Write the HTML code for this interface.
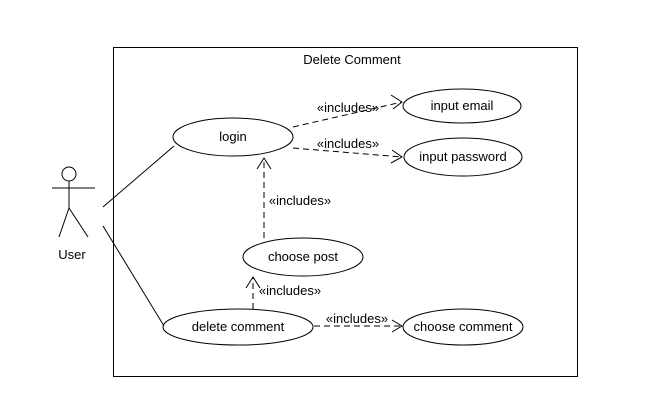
<!DOCTYPE html>
<html><head><style>body{margin:0;background:#fff}svg{display:block}text{font-family:"Liberation Sans",sans-serif;font-size:13px;fill:#000}</style></head><body>
<svg width="649" height="415" viewBox="0 0 649 415">
<rect x="113.5" y="47.5" width="464" height="329" fill="none" stroke="#000"/>
<text x="352" y="64" text-anchor="middle">Delete Comment</text>
<g fill="none" stroke="#000">
<ellipse cx="233" cy="137" rx="60" ry="19"/>
<ellipse cx="462" cy="106" rx="59" ry="17"/>
<ellipse cx="463" cy="157" rx="59" ry="19"/>
<ellipse cx="303" cy="257" rx="60" ry="19"/>
<ellipse cx="238" cy="327" rx="75" ry="18"/>
<ellipse cx="463" cy="327" rx="60" ry="18"/>
<circle cx="69" cy="174" r="7"/>
<line x1="52" y1="188" x2="95" y2="188"/>
<line x1="69" y1="181" x2="69" y2="208"/>
<polyline points="59,237 69,208 88,237"/>
<line x1="103" y1="207" x2="174" y2="146"/>
<line x1="103" y1="226" x2="164" y2="326"/>
<g stroke-dasharray="6,4">
<line x1="293" y1="127" x2="402" y2="102"/>
<line x1="293" y1="148" x2="402" y2="157"/>
<line x1="264" y1="238" x2="264" y2="158"/>
<line x1="253" y1="309" x2="253" y2="277"/>
<line x1="314" y1="326" x2="402" y2="326"/>
</g>
<polyline points="391,95 402,102 393,109"/>
<polyline points="392,150 402,157 391,163"/>
<polyline points="257,169 264,158 271,169"/>
<polyline points="246,288 253,277 260,288"/>
<polyline points="392,320 402,326 392,332"/>
</g>
<text x="348" y="112" text-anchor="middle">«includes»</text>
<text x="348" y="148" text-anchor="middle">«includes»</text>
<text x="300" y="205" text-anchor="middle">«includes»</text>
<text x="290" y="295" text-anchor="middle">«includes»</text>
<text x="357" y="323" text-anchor="middle">«includes»</text>
<text x="233" y="141" text-anchor="middle">login</text>
<text x="462" y="110" text-anchor="middle">input email</text>
<text x="463" y="161" text-anchor="middle">input password</text>
<text x="303" y="261" text-anchor="middle">choose post</text>
<text x="238" y="331" text-anchor="middle">delete comment</text>
<text x="463" y="331" text-anchor="middle">choose comment</text>
<text x="72" y="259" text-anchor="middle">User</text>
</svg>
</body></html>
